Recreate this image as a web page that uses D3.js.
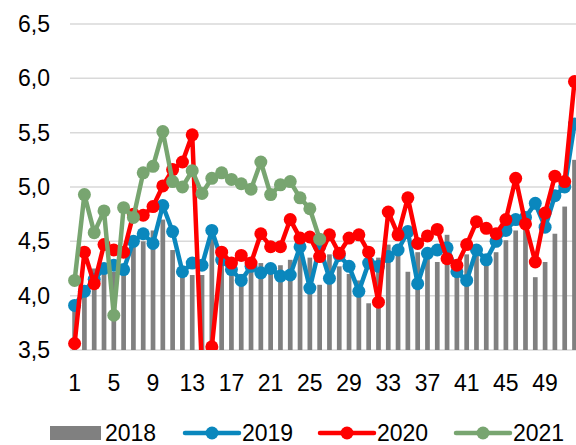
<!DOCTYPE html>
<html lang="en">
<head>
<meta charset="utf-8">
<title>Weekly chart 2018-2021</title>
<style>
body { margin: 0; background: #fff; }
svg { display: block; font-family: Arial, "Liberation Sans", sans-serif; }
.tick-label { font-size: 23px; fill: #000; }
.grid line { stroke: #d9d9d9; stroke-width: 1.5px; }
</style>
</head>
<body>
<div id="chart"></div>
<script src="https://d3js.org/d3.v7.min.js"></script>
<script>
// week numbers
var weeks = d3.range(1, 53);
var xTickWeeks = [1, 5, 9, 13, 17, 21, 25, 29, 33, 37, 41, 45, 49];
var yTicks = [3.5, 4.0, 4.5, 5.0, 5.5, 6.0, 6.5];

var values2018 = [3.95, 4.05, 4.25, 4.2, 4.22, 4.28, 4.5, 4.5, 4.6, 4.7,
	4.42, 4.22, 4.19, 4.19, 4.55, 4.38, 4.3, 4.2, 4.25, 4.3,
	4.25, 4.28, 4.33, 4.48, 4.35, 4.1, 4.38, 4.27, 4.2, 4.14,
	3.93, 4.35, 4.47, 4.42, 4.22, 4.4, 4.4, 4.31, 4.56, 4.3,
	4.38, 4.42, 4.35, 4.4, 4.51, 4.6, 4.72, 4.17, 4.31, 4.57,
	4.82, 5.25];

var values2019 = [3.91, 4.04, 4.15, 4.25, 4.28, 4.24, 4.5, 4.57, 4.48, 4.83,
	4.59, 4.22, 4.3, 4.28, 4.6, 4.33, 4.24, 4.14, 4.27, 4.21,
	4.25, 4.18, 4.19, 4.45, 4.07, 4.45, 4.16, 4.37, 4.27, 4.04,
	4.3, 4.27, 4.36, 4.42, 4.59, 4.11, 4.39, 4.42, 4.44, 4.22,
	4.14, 4.42, 4.33, 4.5, 4.6, 4.7, 4.72, 4.85, 4.63, 4.92,
	5.0, 5.58];

var values2020 = [3.56, 4.4, 4.11, 4.47, 4.42, 4.4, 4.75, 4.74, 4.82, 5.01,
	5.16, 5.23, 5.48, 3.3, 3.53, 4.4, 4.3, 4.37, 4.3, 4.57,
	4.45, 4.45, 4.7, 4.53, 4.54, 4.36, 4.56, 4.39, 4.53, 4.56,
	4.4, 3.94, 4.77, 4.56, 4.9, 4.48, 4.55, 4.61, 4.34, 4.28,
	4.47, 4.68, 4.62, 4.57, 4.7, 5.08, 4.66, 4.31, 4.76, 5.1,
	5.05, 5.97];

var values2021 = [4.14, 4.93, 4.58, 4.78, 3.82, 4.81, 4.72, 5.13, 5.19, 5.51,
	5.05, 5.0, 5.15, 4.94, 5.08, 5.13, 5.07, 5.03, 4.98, 5.23,
	4.93, 5.02, 5.05, 4.9, 4.8, 4.52];

var lineSeries = [
	{ name: "2019", values: values2019, color: "#0a87bd" },
	{ name: "2020", values: values2020, color: "#ff0000" },
	{ name: "2021", values: values2021, color: "#78a570" }
];

var width = 576, height = 445;

var svg = d3.select("#chart").append("svg")
	.attr("width", width)
	.attr("height", height);

var x = d3.scaleBand()
	.domain(weeks)
	.range([69.7, 579.4])
	.paddingInner(0.52)
	.paddingOuter(0.26);

var y = d3.scaleLinear()
	.domain([3.5, 6.5])
	.range([350, 24]);

function cx(w) { return x(w) + x.bandwidth() / 2; }

var fmt = function(d) { return d3.format(".1f")(d).replace(".", ","); };

svg.append("defs").append("clipPath").attr("id", "plot-clip")
	.append("rect")
	.attr("x", 0).attr("y", 0)
	.attr("width", width).attr("height", y(3.5));

// gridlines
svg.append("g").attr("class", "grid")
	.selectAll("line").data(yTicks).enter().append("line")
	.attr("x1", 70).attr("x2", width)
	.attr("y1", function(d) { return y(d); })
	.attr("y2", function(d) { return y(d); });

// y labels
svg.append("g").selectAll("text").data(yTicks).enter().append("text")
	.attr("class", "tick-label")
	.attr("x", 50)
	.attr("y", function(d) { return y(d); })
	.attr("dy", "0.35em")
	.attr("text-anchor", "end")
	.text(fmt);

// x labels
svg.append("g").selectAll("text").data(xTickWeeks).enter().append("text")
	.attr("class", "tick-label")
	.attr("x", function(d) { return cx(d); })
	.attr("y", 383)
	.attr("dy", "0.35em")
	.attr("text-anchor", "middle")
	.text(function(d) { return d; });

var plot = svg.append("g").attr("clip-path", "url(#plot-clip)");

// 2018 bars
plot.append("g").selectAll("rect").data(values2018).enter().append("rect")
	.attr("x", function(d, i) { return x(weeks[i]); })
	.attr("width", x.bandwidth())
	.attr("y", function(d) { return y(d); })
	.attr("height", function(d) { return y(3.5) - y(d); })
	.attr("fill", "#808080");

var line = d3.line()
	.x(function(d, i) { return cx(weeks[i]); })
	.y(function(d) { return y(d); });

lineSeries.forEach(function(s) {
	var g = plot.append("g");
	g.append("path")
		.datum(s.values)
		.attr("d", line)
		.attr("fill", "none")
		.attr("stroke", s.color)
		.attr("stroke-width", 4.5)
		.attr("stroke-linejoin", "round");
	g.selectAll("circle").data(s.values).enter().append("circle")
		.attr("cx", function(d, i) { return cx(weeks[i]); })
		.attr("cy", function(d) { return y(d); })
		.attr("r", 6.5)
		.attr("fill", s.color);
});

// legend
var legendY = 433;
var legend = svg.append("g");
legend.append("rect")
	.attr("x", 50).attr("y", legendY - 7)
	.attr("width", 51).attr("height", 14)
	.attr("fill", "#808080");
legend.append("text").attr("class", "tick-label")
	.attr("x", 105).attr("y", legendY).attr("dy", "0.35em").text("2018");

var legendX = [185, 320, 456];
lineSeries.forEach(function(s, i) {
	var lx = legendX[i];
	legend.append("line")
		.attr("x1", lx).attr("x2", lx + 54)
		.attr("y1", legendY).attr("y2", legendY)
		.attr("stroke", s.color).attr("stroke-width", 4.5)
		.attr("stroke-linecap", "round");
	legend.append("circle")
		.attr("cx", lx + 27).attr("cy", legendY).attr("r", 6.5)
		.attr("fill", s.color);
	legend.append("text").attr("class", "tick-label")
		.attr("x", lx + 57).attr("y", legendY).attr("dy", "0.35em").text(s.name);
});
</script>
</body>
</html>
